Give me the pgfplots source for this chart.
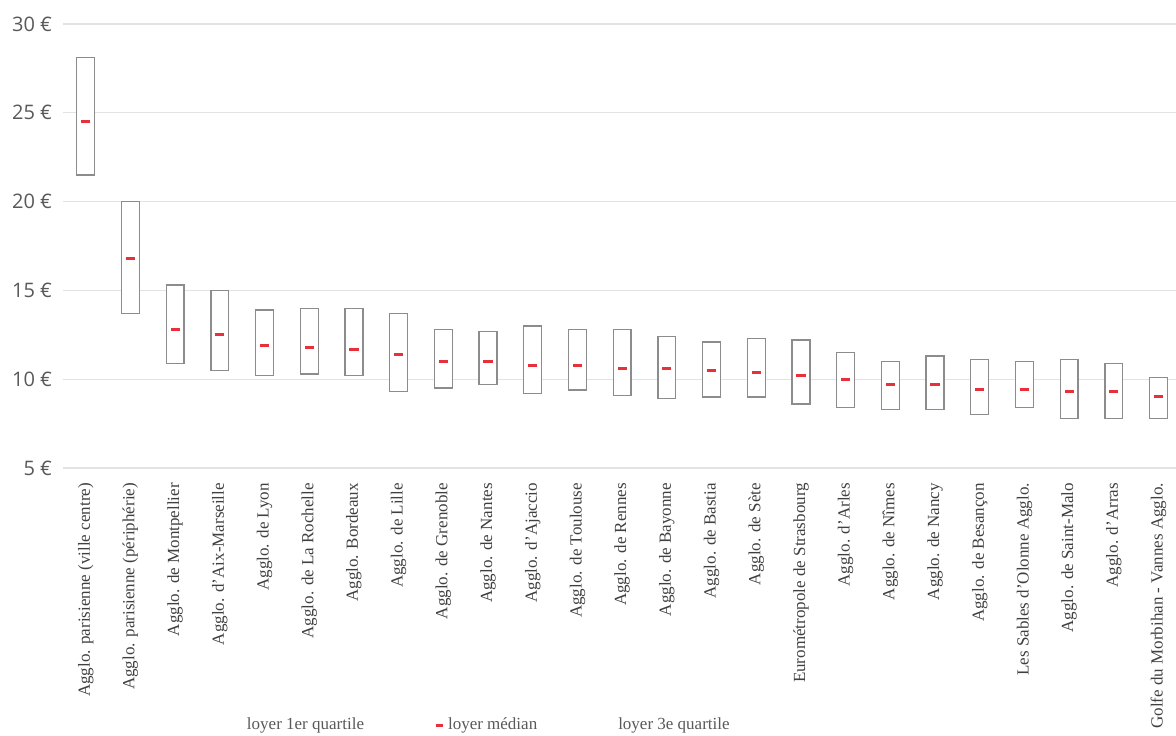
\documentclass[border=0pt]{standalone}
\usepackage{pgfplots}
\pgfplotsset{compat=1.18}
\usepgfplotslibrary{statistics}
\usepackage{fontspec}
\setmainfont{Liberation Serif}
\newfontfamily\tickfont{Open Sans}
\definecolor{boxgray}{HTML}{8C8C8C}
\definecolor{gridgray}{HTML}{E3E3E3}
\definecolor{medred}{HTML}{E8303A}
\definecolor{txtgray}{HTML}{595959}
\definecolor{labgray}{HTML}{404040}
\pgfplotsset{
  qbox/.style n args={4}{boxplot prepared={draw position=#1, lower whisker=#2, lower quartile=#2, median=#3, upper quartile=#4, upper whisker=#4, box extend=0.4},
    draw=boxgray, fill=white, line width=0.65pt, solid, forget plot}
}
\begin{document}
\begin{tikzpicture}
\begin{axis}[
  at={(0,0)}, anchor=south west,
  scale only axis, width=556.5pt, height=222pt,
  xmin=0.492, xmax=25.39, ymin=5, ymax=30,
  enlargelimits=false, clip=false,
  axis line style={draw=none}, major tick length=0pt,
  ytick={5,10,15,20,25,30},
  ymajorgrids, grid style={gridgray, line width=0.6pt},
  yticklabel={\pgfmathparse{int(\tick)}\pgfmathresult\ €},
  yticklabel style={font=\tickfont\fontsize{10}{12}\selectfont, text=txtgray, xshift=-2pt},
  xtick={1,...,25},
  xticklabels={Agglo. parisienne (ville centre),Agglo. parisienne (périphérie),Agglo. de Montpellier,Agglo. d'Aix-Marseille,Agglo. de Lyon,Agglo. de La Rochelle,Agglo. Bordeaux,Agglo. de Lille,Agglo. de Grenoble,Agglo. de Nantes,Agglo. d'Ajaccio,Agglo. de Toulouse,Agglo. de Rennes,Agglo. de Bayonne,Agglo. de Bastia,Agglo. de Sète,Eurométropole de Strasbourg,Agglo. d'Arles,Agglo. de Nîmes,Agglo. de Nancy,Agglo. de Besançon,Les Sables d'Olonne Agglo.,Agglo. de Saint-Malo,Agglo. d'Arras,Golfe du Morbihan - Vannes Agglo.},
  xticklabel style={rotate=90, anchor=east, font=\fontsize{8.5}{10}\selectfont, text=labgray},
  xticklabel shift=4pt,
  boxplot/draw direction=y,
  boxplot/draw/median/.code={},
  boxplot/draw/lower whisker/.code={},
  boxplot/draw/upper whisker/.code={},
  legend columns=3,
  legend style={at={(0.379,-0.579)}, anchor=center, draw=none, fill=none,
    font=\fontsize{8.5}{10}\selectfont, text=txtgray,
    /tikz/every even column/.append style={column sep=33pt}},
]
\addplot[qbox={1}{21.5}{24.5}{28.1}] coordinates {};
\addplot[qbox={2}{13.7}{16.8}{20.0}] coordinates {};
\addplot[qbox={3}{10.9}{12.8}{15.3}] coordinates {};
\addplot[qbox={4}{10.5}{12.5}{15.0}] coordinates {};
\addplot[qbox={5}{10.2}{11.9}{13.9}] coordinates {};
\addplot[qbox={6}{10.3}{11.8}{14.0}] coordinates {};
\addplot[qbox={7}{10.2}{11.7}{14.0}] coordinates {};
\addplot[qbox={8}{9.3}{11.4}{13.7}] coordinates {};
\addplot[qbox={9}{9.5}{11.0}{12.8}] coordinates {};
\addplot[qbox={10}{9.7}{11.0}{12.7}] coordinates {};
\addplot[qbox={11}{9.2}{10.8}{13.0}] coordinates {};
\addplot[qbox={12}{9.4}{10.8}{12.8}] coordinates {};
\addplot[qbox={13}{9.1}{10.6}{12.8}] coordinates {};
\addplot[qbox={14}{8.9}{10.6}{12.4}] coordinates {};
\addplot[qbox={15}{9.0}{10.5}{12.1}] coordinates {};
\addplot[qbox={16}{9.0}{10.4}{12.3}] coordinates {};
\addplot[qbox={17}{8.6}{10.2}{12.2}] coordinates {};
\addplot[qbox={18}{8.4}{10.0}{11.5}] coordinates {};
\addplot[qbox={19}{8.3}{9.7}{11.0}] coordinates {};
\addplot[qbox={20}{8.3}{9.7}{11.3}] coordinates {};
\addplot[qbox={21}{8.0}{9.4}{11.1}] coordinates {};
\addplot[qbox={22}{8.4}{9.4}{11.0}] coordinates {};
\addplot[qbox={23}{7.8}{9.3}{11.1}] coordinates {};
\addplot[qbox={24}{7.8}{9.3}{10.9}] coordinates {};
\addplot[qbox={25}{7.8}{9.0}{10.1}] coordinates {};
\addplot[only marks, mark=-, mark size=2.3pt, mark options={medred, line width=1.5pt}, forget plot] coordinates {
(1,24.5) (2,16.8) (3,12.8) (4,12.5) (5,11.9) (6,11.8) (7,11.7) (8,11.4) (9,11.0) (10,11.0)
(11,10.8) (12,10.8) (13,10.6) (14,10.6) (15,10.5) (16,10.4) (17,10.2) (18,10.0) (19,9.7) (20,9.7)
(21,9.4) (22,9.4) (23,9.3) (24,9.3) (25,9.0)};
\addlegendimage{draw=none, legend image code/.code={\path[draw=none] (0pt,0pt) -- (3.5pt,0pt);}}
\addlegendentry{loyer 1er quartile}
\addlegendimage{legend image code/.code={\draw[medred, line width=1.5pt] (0pt,0pt) -- (3.5pt,0pt);}}
\addlegendentry{loyer médian}
\addlegendimage{draw=none, legend image code/.code={\path[draw=none] (0pt,0pt) -- (3.5pt,0pt);}}
\addlegendentry{loyer 3e quartile}
\end{axis}
\pgfresetboundingbox
\useasboundingbox (-31.5pt,-133.5pt) rectangle (556.5pt,234pt);
\end{tikzpicture}
\end{document}
